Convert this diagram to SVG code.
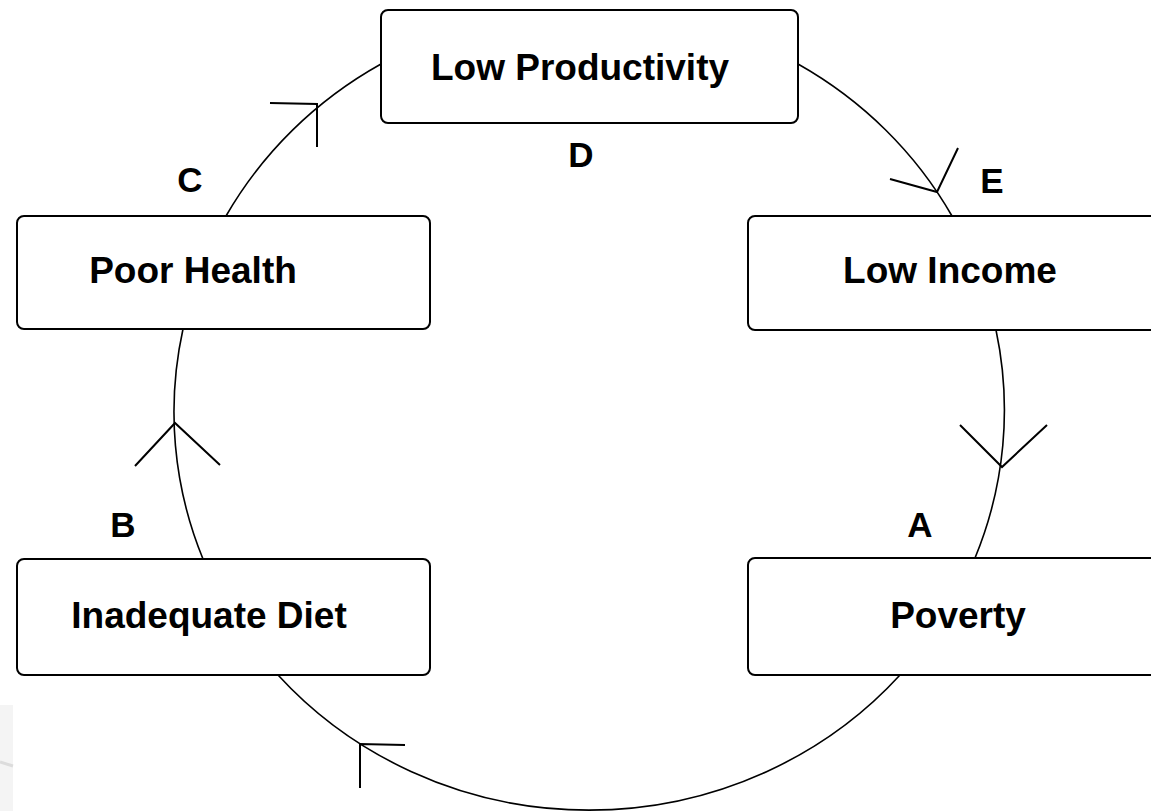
<svg xmlns="http://www.w3.org/2000/svg" width="1151" height="811" viewBox="0 0 1151 811">
<style>
.box{fill:#fff;stroke:#000;stroke-width:2}
.lbl{font-family:"Liberation Sans",Arial,sans-serif;font-weight:bold;font-size:37px;fill:#000;text-anchor:middle}
.let{font-family:"Liberation Sans",Arial,sans-serif;font-weight:bold;font-size:35px;fill:#000;text-anchor:middle}
.arc{fill:none;stroke:#000;stroke-width:1.6}
.head{fill:none;stroke:#000;stroke-width:2}
</style>
<rect width="1151" height="811" fill="#fff"/>
<g id="background-mark">
<rect x="0" y="705" width="13" height="106" fill="#f4f4f4"/>
<path d="M0 762 L13 766" stroke="#dcdcdc" stroke-width="3" fill="none"/>
</g>
<g id="connectors">
<path class="arc" d="M798 64 A415 400 0 0 1 952 216"/>
<path class="arc" d="M996 330 A415 400 0 0 1 975 558"/>
<path class="arc" d="M900 675 A415 400 0 0 1 278 675"/>
<path class="arc" d="M203 559 A415 400 0 0 1 183 329"/>
<path class="arc" d="M226 216 A415 400 0 0 1 381 64"/>
<path class="head" d="M890 179 L937 192 L958 148"/>
<path class="head" d="M960 425 L1002 467 L1047 425"/>
<path class="head" d="M405 745 L360 744 L360 788"/>
<path class="head" d="M135 466 L175 423 L220 465"/>
<path class="head" d="M270 103 L317 104 L317 147"/>
</g>
<g id="node-low-productivity">
<rect class="box" x="381" y="10" width="417" height="113" rx="7"/>
<text class="lbl" x="580" y="80">Low Productivity</text>
</g>
<g id="node-low-income">
<rect class="box" x="748" y="216" width="420" height="114" rx="7"/>
<text class="lbl" x="950" y="283">Low Income</text>
</g>
<g id="node-poverty">
<rect class="box" x="748" y="558" width="420" height="117" rx="7"/>
<text class="lbl" x="958" y="628">Poverty</text>
</g>
<g id="node-inadequate-diet">
<rect class="box" x="17" y="559" width="413" height="116" rx="7"/>
<text class="lbl" x="209" y="628">Inadequate Diet</text>
</g>
<g id="node-poor-health">
<rect class="box" x="17" y="216" width="413" height="113" rx="7"/>
<text class="lbl" x="193" y="283">Poor Health</text>
</g>
<g id="labels">
<text class="let" x="581" y="167">D</text>
<text class="let" x="992" y="193">E</text>
<text class="let" x="190" y="192">C</text>
<text class="let" x="123" y="537">B</text>
<text class="let" x="920" y="537">A</text>
</g>
</svg>
